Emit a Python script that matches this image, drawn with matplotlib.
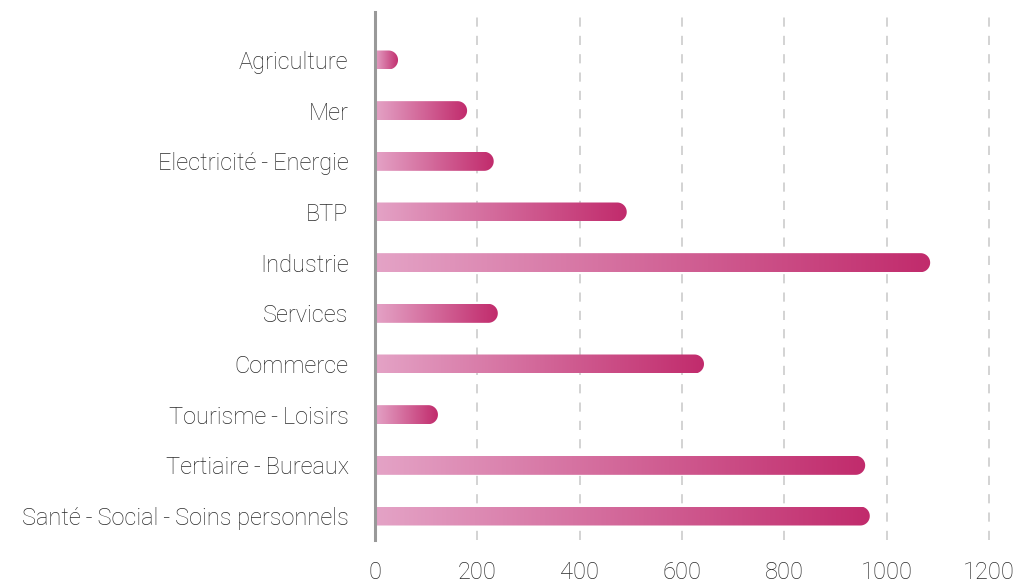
import matplotlib
matplotlib.use("Agg")
import matplotlib.pyplot as plt
import numpy as np
from matplotlib.path import Path
from matplotlib.patches import PathPatch
from matplotlib.colors import LinearSegmentedColormap

plt.rcParams['font.family'] = ['Roboto', 'DejaVu Sans']

# data
categories = ["Agriculture", "Mer", "Electricité\u2009-\u2009Energie", "BTP", "Industrie",
              "Services", "Commerce", "Tourisme\u2009-\u2009Loisirs", "Tertiaire\u2009-\u2009Bureaux",
              "Santé\u2009-\u2009Social\u2009-\u2009Soins personnels"]
values = [45, 180, 232, 492, 1085, 240, 643, 123, 958, 967]
x_ticks = [0, 200, 400, 600, 800, 1000, 1200]

fig = plt.figure(figsize=(10.18, 5.85), dpi=100)
ax = fig.add_axes([375 / 1018, 1 - 540 / 585, (989 - 375) / 1018, 528 / 585])

cmap = LinearSegmentedColormap.from_list("pink", ["#e4a3c6", "#c12b6c"])
grad = np.linspace(0, 1, 256).reshape(1, -1)

# bar geometry: rounded right end, radius given in pixels
px_x = (989 - 375) / 1200.0
px_y = 50.67
half_h = 9.5 / px_y
rx = 9.5 / px_x

for i, v in enumerate(values):
    xc = max(v - rx, 0)
    t = np.linspace(-np.pi / 2, np.pi / 2, 40)
    arc = np.column_stack([xc + rx * np.cos(t), i + half_h * np.sin(t)])
    verts = np.vstack([[0, i - half_h], [xc, i - half_h],
                       arc, [0, i + half_h], [0, i - half_h]])
    codes = [Path.MOVETO] + [Path.LINETO] * (len(verts) - 2) + [Path.CLOSEPOLY]
    patch = PathPatch(Path(verts, codes), facecolor="none", edgecolor="none")
    ax.add_patch(patch)
    im = ax.imshow(grad, cmap=cmap, aspect="auto",
                   extent=(0, v, i + half_h, i - half_h), zorder=2)
    im.set_clip_path(patch)

ax.set_xlim(0, 1200)
ax.set_ylim(9 + 24 / 50.67, -48 / 50.67)

for xt in x_ticks[1:]:
    ax.axvline(xt, color="#c8c8c8", lw=1.1, linestyle=(0, (6, 6)), zorder=1,
               clip_on=False)

ax.set_yticks(range(len(categories)))
ax.set_yticklabels(categories)
ax.set_xticks(x_ticks)
ax.tick_params(axis="both", length=0, colors="#2a2a2a")
ax.tick_params(axis="y", pad=19, labelsize=17)
ax.tick_params(axis="x", pad=15, labelsize=17)
for lab in ax.get_xticklabels() + ax.get_yticklabels():
    lab.set_fontweight("light")

for s in ["top", "right", "bottom"]:
    ax.spines[s].set_visible(False)
ax.spines["left"].set_color("#999999")
ax.spines["left"].set_linewidth(2.2)
ax.spines["left"].set_zorder(3)

fig.savefig("out.png", dpi=100)
